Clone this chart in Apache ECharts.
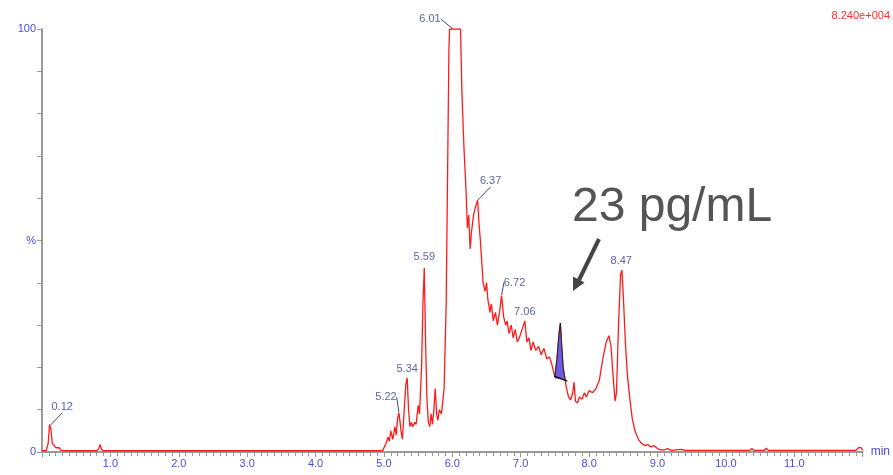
<!DOCTYPE html>
<html>
<head>
<meta charset="utf-8">
<script src="https://cdn.jsdelivr.net/npm/echarts@6/dist/echarts.min.js"></script>
<style>
  html, body { margin: 0; padding: 0; background: #fff; }
  #main { width: 893px; height: 475px; }
</style>
</head>
<body>
<div id="main"></div>
<script>
// retention time (min) / relative intensity (%)
var trace = [
  [0, 0.3], [0.06, 0.3], [0.09, 2], [0.11, 6.5], [0.13, 5.5], [0.15, 2], [0.18, 1.5], [0.2, 1],
  [0.22, 0.8], [0.25, 1], [0.28, 0.4], [0.35, 0.3], [0.6, 0.3], [0.8, 0.3], [0.83, 0.8], [0.85, 1.8],
  [0.87, 0.6], [0.9, 0.3], [2, 0.3], [4.98, 0.3],
  [5.0, 0.5], [5.03, 2], [5.06, 3.5], [5.08, 2.5], [5.1, 5], [5.13, 3], [5.16, 6], [5.18, 4],
  [5.2, 8], [5.22, 9.2], [5.25, 5], [5.27, 3], [5.3, 11], [5.32, 16], [5.34, 17.5], [5.36, 10],
  [5.38, 6], [5.4, 7], [5.42, 6], [5.45, 7], [5.47, 6.5], [5.5, 11], [5.52, 9], [5.55, 20],
  [5.57, 35], [5.59, 43.5], [5.61, 25], [5.63, 12], [5.65, 7], [5.67, 6], [5.69, 9], [5.71, 6.5],
  [5.73, 10], [5.75, 15], [5.77, 9], [5.79, 7.5], [5.81, 10], [5.84, 9], [5.88, 15], [5.91, 35],
  [5.93, 65], [5.95, 95], [5.96, 100], [6.12, 100], [6.14, 85], [6.17, 72], [6.2, 62], [6.22, 53],
  [6.24, 56], [6.26, 48], [6.28, 52], [6.31, 56], [6.34, 58], [6.37, 59.5], [6.39, 54], [6.41, 50],
  [6.43, 45], [6.45, 40], [6.48, 38], [6.5, 40], [6.52, 36], [6.55, 33], [6.57, 35], [6.6, 31],
  [6.63, 33], [6.66, 30], [6.69, 33], [6.72, 37], [6.75, 32], [6.78, 30], [6.8, 31], [6.83, 28],
  [6.86, 30], [6.89, 27], [6.92, 29], [6.95, 26], [6.98, 27], [7.02, 29], [7.06, 31], [7.09, 26],
  [7.12, 27], [7.15, 24], [7.18, 26], [7.22, 24], [7.26, 25], [7.3, 23], [7.34, 24.5], [7.38, 22],
  [7.42, 22.5], [7.45, 21], [7.48, 19], [7.5, 17.7], [7.53, 22], [7.56, 28], [7.58, 30.5], [7.6, 25],
  [7.62, 20], [7.65, 17], [7.67, 15], [7.7, 13], [7.73, 12.3], [7.76, 14], [7.78, 16.5], [7.8, 12],
  [7.83, 11.6], [7.86, 13], [7.9, 12.5], [7.93, 14], [7.96, 13], [8.0, 14.5], [8.05, 14], [8.1, 15],
  [8.15, 17], [8.2, 22], [8.25, 26], [8.29, 27.5], [8.32, 25], [8.35, 18], [8.38, 12], [8.4, 14],
  [8.43, 30], [8.46, 42], [8.48, 43], [8.5, 37], [8.53, 26], [8.56, 18], [8.6, 12], [8.63, 8],
  [8.67, 5], [8.72, 3], [8.77, 2], [8.82, 1.5], [8.86, 1.8], [8.9, 1.2], [8.95, 1.5], [9.0, 0.8],
  [9.05, 0.5], [9.1, 0.5], [9.15, 0.8], [9.2, 0.4], [9.35, 0.6], [9.4, 0.4], [10.35, 0.4],
  [10.38, 0.8], [10.41, 0.4], [10.56, 0.4], [10.59, 0.9], [10.62, 0.4], [11.9, 0.4], [11.95, 1.1],
  [11.98, 1], [12, 0.4]
];

// integrated peak (shaded)
var peakArea = [[7.5, 17.7], [7.53, 22], [7.56, 28], [7.58, 30.5], [7.6, 25], [7.62, 20], [7.65, 17]];
var peakBase = [[7.49, 17.9], [7.68, 16.8]];

// apex labels
var apexes = [
  [0.12, 6.3], [5.22, 9.2], [5.34, 17.5], [5.59, 43.5], [6.01, 100],
  [6.37, 59.5], [6.72, 37], [7.06, 31], [8.47, 43]
];
var apexText = ['0.12', '5.22', '5.34', '5.59', '6.01', '6.37', '6.72', '7.06', '8.47'];
// label shift (px) from apex; leader line drawn when true
var apexShift = [[12, -18, true], [-13, -16, true], [0, -9, false], [0, -11, false], [-23, -10, true],
  [13, -19, true], [13, -13, true], [0, -9, false], [0, -9, false]];

var chart = echarts.init(document.getElementById('main'));
var font = 'Liberation Sans, Arial, sans-serif';

var option = {
  animation: false,
  grid: { left: 42, right: 27, top: 29, bottom: 23 },
  xAxis: {
    type: 'value', min: 0, max: 12, interval: 1,
    name: 'min', nameLocation: 'end', nameGap: 8,
    nameTextStyle: { color: '#4a4ae6', fontSize: 12, fontFamily: font, padding: [8, 0, 0, 0] },
    axisLine: { lineStyle: { color: '#999', width: 2 } },
    axisTick: { length: 5, lineStyle: { color: '#999' } },
    minorTick: { show: true, splitNumber: 10, length: 4, lineStyle: { color: '#999' } },
    splitLine: { show: false },
    axisLabel: {
      color: '#4a4ae6', fontSize: 11, fontFamily: font, margin: 6,
      formatter: function (v) { return (v === 0 || v === 12) ? '' : v.toFixed(1); }
    }
  },
  yAxis: {
    type: 'value', min: 0, max: 100, interval: 10,
    axisLine: { show: true, lineStyle: { color: '#999', width: 2 } },
    axisTick: { show: true, length: 5, lineStyle: { color: '#999' } },
    splitLine: { show: false },
    axisLabel: {
      color: '#4a4ae6', fontSize: 11, fontFamily: font, margin: 6,
      formatter: function (v) {
        if (v === 0) return '0';
        if (v === 100) return '100';
        if (v === 50) return '%';
        return '';
      }
    }
  },
  series: [
    {
      type: 'line', data: trace, symbol: 'none',
      lineStyle: { color: '#ff1a1a', width: 1.3 }, z: 2
    },
    {
      type: 'line', data: peakArea, symbol: 'none',
      lineStyle: { color: '#222', width: 1 },
      areaStyle: { color: '#6b5be6', opacity: 1, origin: 17.4 }, z: 3
    },
    {
      type: 'line', data: peakBase, symbol: 'none',
      lineStyle: { color: '#111', width: 1.5 }, z: 4
    },
    {
      type: 'scatter', symbolSize: 1, itemStyle: { color: 'rgba(0,0,0,0)' },
      data: apexes.map(function (p, i) {
        return {
          value: p,
          label: { formatter: apexText[i] },
          labelLine: { show: apexShift[i][2] }
        };
      }),
      label: {
        show: true, position: 'inside', color: '#2f3c8f', fontSize: 11, fontFamily: font
      },
      labelLine: { show: true, lineStyle: { color: '#3a4a8a', width: 1 } },
      labelLayout: function (params) {
        var s = apexShift[params.dataIndex];
        return { dx: s[0], dy: s[1] };
      },
      z: 5
    }
  ],
  graphic: [
    {
      type: 'text', right: 3, top: 10,
      style: { text: '8.240e+004', fill: '#ff2a2a', font: '11px ' + font }
    },
    {
      type: 'text', left: 572, top: 184,
      style: { text: '23 pg/mL', fill: '#555', font: '48px ' + font }
    },
    {
      type: 'line',
      shape: { x1: 599, y1: 239, x2: 579, y2: 280 },
      style: { stroke: '#444', lineWidth: 4 }
    },
    {
      type: 'polygon',
      shape: { points: [[573, 291], [584.5, 282.5], [573, 276.5]] },
      style: { fill: '#444' }
    }
  ]
};

chart.setOption(option);
</script>
</body>
</html>
